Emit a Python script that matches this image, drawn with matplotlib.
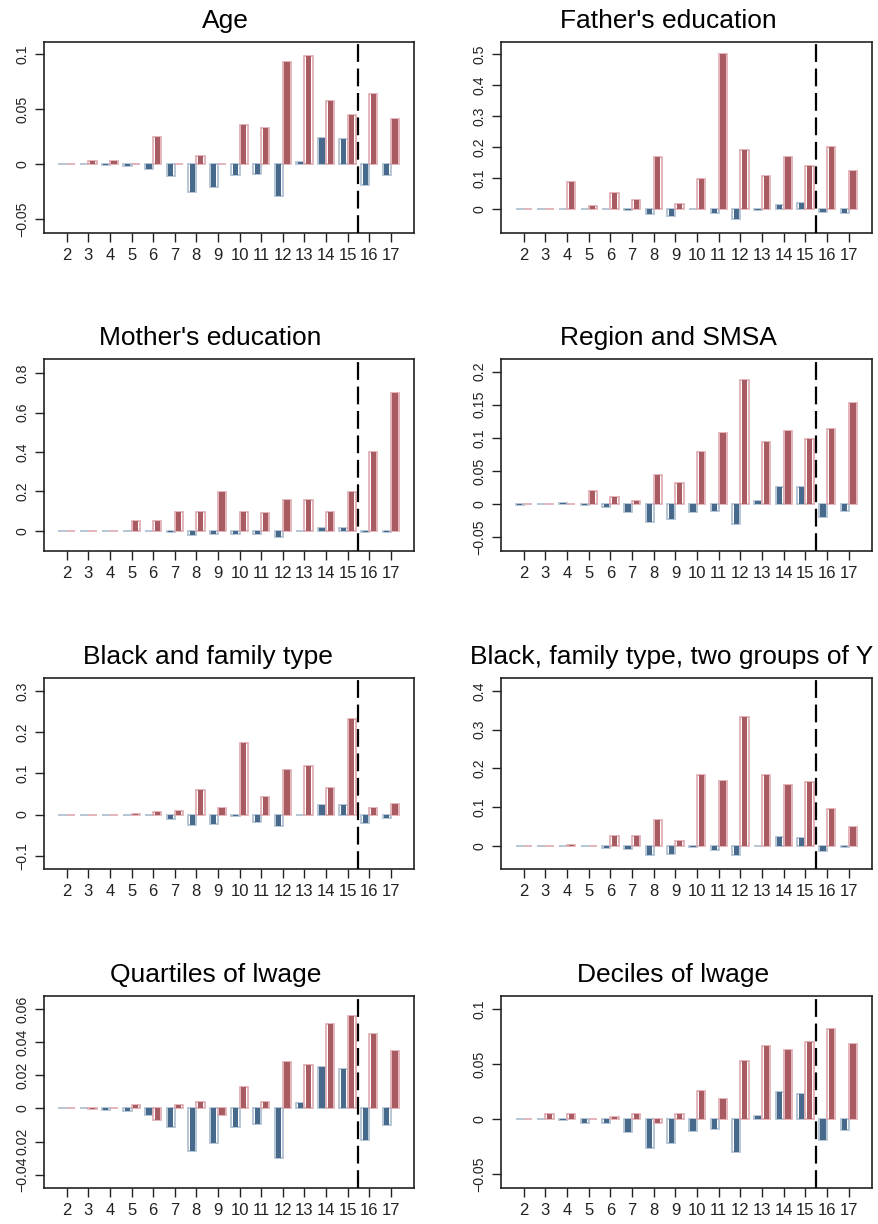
import numpy as np
import matplotlib.pyplot as plt

plt.rcParams['font.family'] = ['Liberation Sans', 'DejaVu Sans']

xs = np.arange(2, 18)

# blue bars sit left of each tick, red bars right of it
age_blue = [0, 0, -0.001, -0.002, -0.004, -0.011, -0.025, -0.021, -0.010, -0.009, -0.029, 0.002, 0.024, 0.023, -0.019, -0.010]
age_red = [0, 0.003, 0.003, 0, 0.025, 0, 0.007, 0, 0.036, 0.033, 0.093, 0.098, 0.057, 0.045, 0.064, 0.041]

father_blue = [0, 0, 0, 0, 0, -0.005, -0.015, -0.022, 0, -0.012, -0.032, -0.005, 0.014, 0.020, -0.010, -0.012]
father_red = [0, 0, 0.088, 0.009, 0.050, 0.030, 0.167, 0.015, 0.096, 0.500, 0.189, 0.106, 0.167, 0.140, 0.199, 0.123]

mother_blue = [0, 0, 0, 0, 0, -0.003, -0.020, -0.017, -0.015, -0.015, -0.032, 0, 0.016, 0.017, -0.005, -0.005]
mother_red = [0, 0, 0, 0.050, 0.050, 0.096, 0.095, 0.197, 0.095, 0.092, 0.157, 0.157, 0.095, 0.197, 0.400, 0.700]

region_blue = [-0.001, 0, 0.001, -0.002, -0.004, -0.012, -0.027, -0.023, -0.012, -0.010, -0.030, 0.004, 0.025, 0.025, -0.019, -0.010]
region_red = [0, 0, 0, 0.020, 0.011, 0.005, 0.044, 0.032, 0.078, 0.107, 0.188, 0.093, 0.111, 0.098, 0.114, 0.153]

black_blue = [0, 0, 0, 0, -0.002, -0.011, -0.026, -0.022, -0.003, -0.017, -0.029, 0, 0.022, 0.022, -0.021, -0.008]
black_red = [0, 0, 0, 0.002, 0.007, 0.008, 0.059, 0.015, 0.175, 0.042, 0.109, 0.117, 0.064, 0.233, 0.017, 0.026]

blacky_blue = [0, 0, 0, 0, -0.005, -0.009, -0.024, -0.020, -0.002, -0.011, -0.024, 0, 0.024, 0.021, -0.014, -0.002]
blacky_red = [0, 0, 0.003, 0, 0.025, 0.025, 0.068, 0.013, 0.183, 0.167, 0.332, 0.183, 0.157, 0.165, 0.094, 0.048]

quart_blue = [0, 0, -0.001, -0.0015, -0.004, -0.011, -0.026, -0.021, -0.011, -0.0097, -0.0298, 0.0035, 0.0253, 0.024, -0.019, -0.0098]
quart_red = [0, -0.0005, 0, 0.002, -0.007, 0.002, 0.004, -0.004, 0.0127, 0.004, 0.028, 0.026, 0.051, 0.056, 0.045, 0.0345]

dec_blue = [0, 0, -0.001, -0.003, -0.003, -0.012, -0.026, -0.022, -0.011, -0.009, -0.030, 0.003, 0.025, 0.023, -0.019, -0.010]
dec_red = [0, 0.005, 0.005, 0, 0.002, 0.005, -0.003, 0.005, 0.026, 0.018, 0.053, 0.067, 0.063, 0.070, 0.082, 0.068]

panels = [
    ("Age", age_blue, age_red, (-0.0625, 0.111),
     [-0.05, 0, 0.05, 0.1], ['\u22120.05', '0', '0.05', '0.1']),
    ("Father's education", father_blue, father_red, (-0.078, 0.54),
     [0, 0.1, 0.2, 0.3, 0.4, 0.5], ['0', '0.1', '0.2', '0.3', '0.4', '0.5']),
    ("Mother's education", mother_blue, mother_red, (-0.1015, 0.871),
     [0, 0.2, 0.4, 0.6, 0.8], ['0', '0.2', '0.4', '0.6', '0.8']),
    ("Region and SMSA", region_blue, region_red, (-0.071, 0.219),
     [-0.05, 0, 0.05, 0.1, 0.15, 0.2], ['\u22120.05', '0', '0.05', '0.1', '0.15', '0.2']),
    ("Black and family type", black_blue, black_red, (-0.1325, 0.332),
     [-0.1, 0, 0.1, 0.2, 0.3], ['\u22120.1', '0', '0.1', '0.2', '0.3']),
    ("Black, family type, two groups of Y", blacky_blue, blacky_red, (-0.060, 0.434),
     [0, 0.1, 0.2, 0.3, 0.4], ['0', '0.1', '0.2', '0.3', '0.4']),
    ("Quartiles of lwage", quart_blue, quart_red, (-0.0481, 0.068),
     [-0.04, -0.02, 0, 0.02, 0.04, 0.06], ['\u22120.04', '0.02', '0', '0.02', '0.04', '0.06']),
    ("Deciles of lwage", dec_blue, dec_red, (-0.0625, 0.112),
     [-0.05, 0, 0.05, 0.1], ['\u22120.05', '0', '0.05', '0.1']),
]

W, H = 879, 1224
fig = plt.figure(figsize=(W / 100, H / 100), dpi=100)

# axes boxes in pixels (left, right, top, bottom)
cols = [(44, 414), (501, 872)]
rows = [(42, 233), (359, 551), (678, 869), (996, 1188)]
# titles in the original sit a bit left of centre; left edge in pixels
title_left = [202, 560, 99, 560, 83, 470, 110, 577]

blue_fill, blue_edge = '#476a8c', '#a9bccd'
red_fill, red_edge = '#a85c62', '#dfa9b0'

for i, (title, blue, red, ylim, yt, ylab) in enumerate(panels):
    l, r = cols[i % 2]
    t, b = rows[i // 2]
    ax = fig.add_axes([l / W, 1 - b / H, (r - l) / W, (b - t) / H])

    ax.bar(xs - 0.19, blue, width=0.38, facecolor='white', edgecolor=blue_edge, lw=1.2)
    ax.bar(xs - 0.19, blue, width=0.24, color=blue_fill, lw=0)
    ax.bar(xs + 0.19, red, width=0.38, facecolor='white', edgecolor=red_edge, lw=1.2)
    ax.bar(xs + 0.19, red, width=0.24, color=red_fill, lw=0)

    ax.axvline(15.5, color='black', lw=1.6, dashes=(8, 3), zorder=5)

    ax.set_xlim(0.95, 18.07)
    ax.set_ylim(*ylim)
    ax.set_xticks(xs)
    ax.set_xticklabels([str(v) for v in xs])
    ax.set_yticks(yt)
    ax.set_yticklabels(ylab, rotation=90, va='center')
    ax.tick_params(direction='out', length=6.5, width=1, colors='#222222')
    ax.tick_params(axis='x', pad=4, labelsize=12)
    ax.tick_params(axis='y', pad=4, labelsize=10.2)
    for s in ax.spines.values():
        s.set_linewidth(1.2)
        s.set_color('#222222')
    tt = ax.set_title(title, fontsize=19, pad=10, loc='left')
    tt.set_x((title_left[i] - l) / (r - l))

fig.savefig('out.png', dpi=100)
